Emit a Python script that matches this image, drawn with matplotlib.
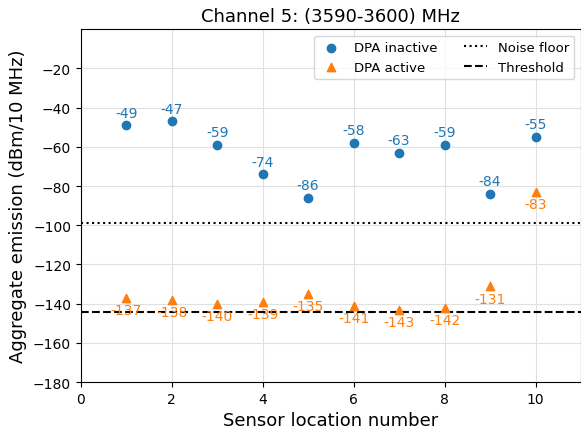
import matplotlib
matplotlib.use('Agg')
import matplotlib.pyplot as plt

sensors = [1, 2, 3, 4, 5, 6, 7, 8, 9, 10]
dpa_inactive = [-49, -47, -59, -74, -86, -58, -63, -59, -84, -55]
dpa_active = [-137, -138, -140, -139, -135, -141, -143, -142, -131, -83]
noise_floor = -99
threshold = -144

fig = plt.figure(figsize=(5.81, 4.31), dpi=100)
ax = fig.add_axes([0.139, 0.111, 0.861, 0.819])

ax.scatter(sensors, dpa_inactive, color='tab:blue', marker='o', s=36, label='DPA inactive', zorder=3)
ax.scatter(sensors, dpa_active, color='tab:orange', marker='^', s=36, label='DPA active', zorder=3)
ax.axhline(noise_floor, color='black', linestyle=':', linewidth=1.5, label='Noise floor')
ax.axhline(threshold, color='black', linestyle='--', linewidth=1.5, label='Threshold')

# labels above the blue points, below the orange ones
for x, y in zip(sensors, dpa_inactive):
    ax.annotate(str(y), (x, y), textcoords='offset points', xytext=(0, 4),
                ha='center', va='bottom', color='tab:blue', fontsize=10)
for x, y in zip(sensors, dpa_active):
    ax.annotate(str(y), (x, y), textcoords='offset points', xytext=(0, -4),
                ha='center', va='top', color='tab:orange', fontsize=10)

ax.set_xlim(0, 11)
ax.set_ylim(-180, 0)
ax.set_yticks(range(-180, 0, 20))
ax.set_xticks([0, 2, 4, 6, 8, 10])
ax.grid(True, color='#e0e0e0')
ax.set_axisbelow(True)
ax.tick_params(labelsize=10)
ax.set_xlabel('Sensor location number', fontsize=13)
ax.set_ylabel('Aggregate emission (dBm/10 MHz)', fontsize=13)
ax.set_title('Channel 5: (3590-3600) MHz', fontsize=13)
ax.legend(ncol=2, loc='upper right', fontsize=9.5, handlelength=1.8)

fig.savefig('out.png', dpi=100)
